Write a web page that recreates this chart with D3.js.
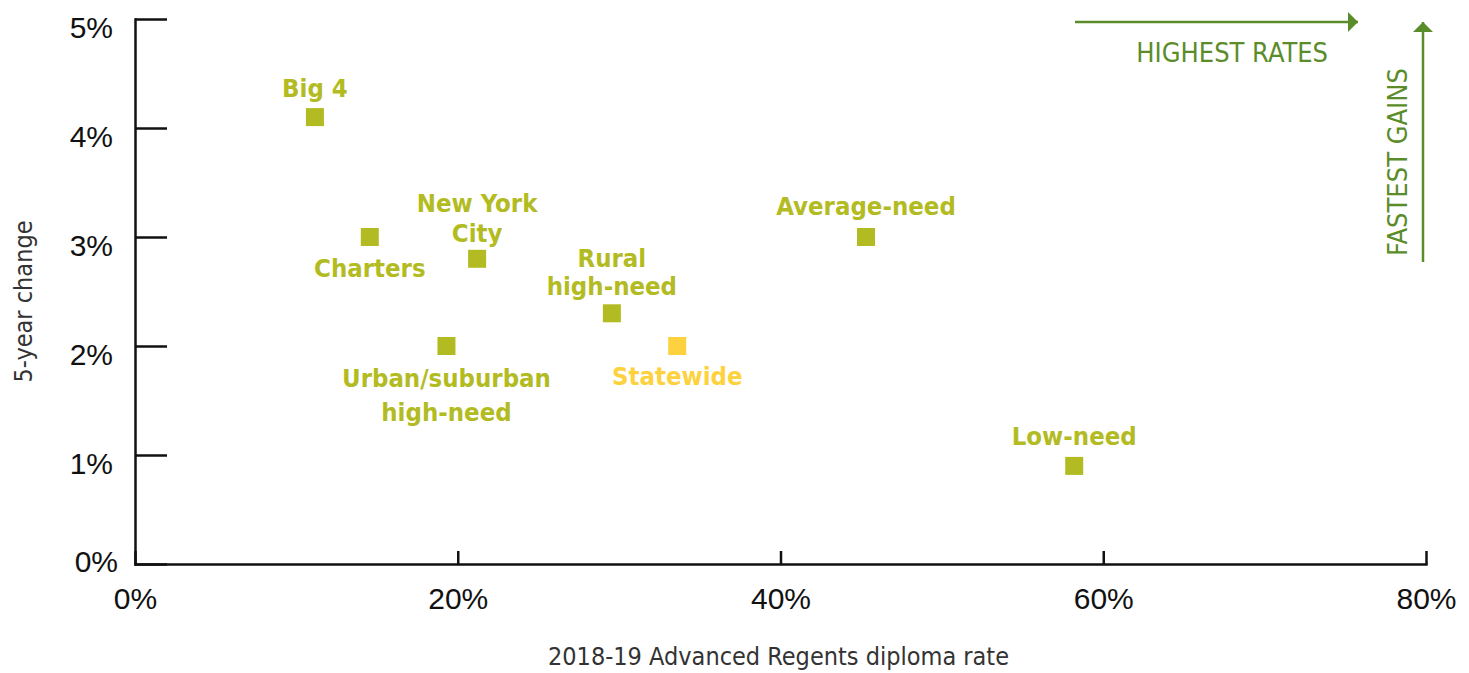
<!DOCTYPE html>
<html>
<head>
<meta charset="utf-8">
<script src="https://cdn.jsdelivr.net/npm/d3@7"></script>
<style>
  body { margin: 0; background: #fff; }
  svg { display: block; font-family: "Liberation Sans Narrow", "DejaVu Sans Condensed", "Roboto", sans-serif; }
  .axis path, .axis line { stroke: #111; stroke-width: 2.5px; }
  .axis text { fill: #111; font-size: 30px; font-family: inherit; }
  .label { font-weight: bold; font-size: 25.5px; text-anchor: middle; }
  .note { fill: #5b8c2a; font-size: 27px; }
</style>
</head>
<body>
<svg class="chart"></svg>
<script>
const groups = ['Big 4', 'Charters', 'New York City', 'Urban/suburban high-need', 'Rural high-need', 'Statewide', 'Average-need', 'Low-need']
const diplomaRate = [11.15, 14.55, 21.2, 19.3, 29.55, 33.6, 45.3, 58.2]
const fiveYearChange = [4.1, 3.0, 2.8, 2.0, 2.3, 2.0, 3.0, 0.9]
const labelLines = [['Big 4'], ['Charters'], ['New York', 'City'], ['Urban/suburban', 'high-need'], ['Rural', 'high-need'], ['Statewide'], ['Average-need'], ['Low-need']]
// label placement relative to the square: first baseline offset (px)
const labelOffset = [-20, 40, -47, 41, -46, 39, -22, -21]
const xTicks = [0, 20, 40, 60, 80]
const yTicks = [0, 1, 2, 3, 4, 5]

const width = 1469
const height = 673
const green = '#b2bc22'
const yellow = '#fdd23e'
const noteColor = '#5b8c2a'

const chart = d3.select('.chart')
  .attr('width', width)
  .attr('height', height)

const xScale = d3.scaleLinear().domain([0, 80]).range([135, 1426])
const yScale = d3.scaleLinear().domain([0, 5]).range([564, 19])

const xAxis = chart.append('g').attr('class', 'axis')
  .attr('transform', `translate(0,${yScale(0)})`)
  .call(d3.axisBottom(xScale).tickValues(xTicks).tickSizeInner(-13).tickSizeOuter(0)
    .tickPadding(24).tickFormat(d => d + '%'))
xAxis.selectAll('text').attr('dy', '0.71em')

const yAxis = chart.append('g').attr('class', 'axis')
  .attr('transform', `translate(${xScale(0)},0)`)
  .call(d3.axisLeft(yScale).tickValues(yTicks).tickSizeInner(-32).tickSizeOuter(0)
    .tickPadding(22).tickFormat(d => d + '%'))
yAxis.selectAll('text').attr('dy', '0.6em')
yAxis.selectAll('.tick').filter(d => d === 0).select('text')
  .attr('x', -17).attr('dy', '0.25em')
chart.selectAll('.axis .domain').attr('stroke-linecap', 'square')

// axis titles
chart.append('text')
  .attr('x', (xScale(0) + xScale(80)) / 2 - 2)
  .attr('y', 665)
  .attr('text-anchor', 'middle')
  .attr('fill', '#333')
  .style('font-size', '25px')
  .text('2018-19 Advanced Regents diploma rate')

chart.append('text')
  .attr('transform', `translate(32,${(yScale(0) + yScale(5)) / 2 + 10}) rotate(-90)`)
  .attr('text-anchor', 'middle')
  .attr('fill', '#333')
  .style('font-size', '25px')
  .text('5-year change')

// direction notes
const defs = chart.append('defs')
defs.append('marker')
  .attr('id', 'arrow')
  .attr('viewBox', '0 0 10 20')
  .attr('refX', 10).attr('refY', 10)
  .attr('markerWidth', 10).attr('markerHeight', 20)
  .attr('markerUnits', 'userSpaceOnUse')
  .attr('orient', 'auto')
  .append('path')
  .attr('d', 'M0,0L10,10L0,20Z')
  .attr('fill', noteColor)

chart.append('line')
  .attr('x1', 1075).attr('y1', 22).attr('x2', 1358).attr('y2', 22)
  .attr('stroke', noteColor).attr('stroke-width', 2.5)
  .attr('marker-end', 'url(#arrow)')
chart.append('text').attr('class', 'note')
  .attr('x', 1328).attr('y', 62)
  .attr('text-anchor', 'end')
  .text('HIGHEST RATES')

chart.append('line')
  .attr('x1', 1423).attr('y1', 262).attr('x2', 1423).attr('y2', 22)
  .attr('stroke', noteColor).attr('stroke-width', 2.5)
  .attr('marker-end', 'url(#arrow)')
chart.append('text').attr('class', 'note')
  .attr('transform', 'translate(1407,256) rotate(-90)')
  .attr('text-anchor', 'start')
  .text('FASTEST GAINS')

// points
const points = chart.append('g').attr('class', 'points')
  .selectAll('g')
  .data(groups)
  .enter()
  .append('g')
  .attr('transform', (d, i) => `translate(${xScale(diplomaRate[i])},${yScale(fiveYearChange[i])})`)

const size = 18
points.append('rect')
  .attr('x', -size / 2).attr('y', -size / 2)
  .attr('width', size).attr('height', size)
  .attr('fill', d => d === 'Statewide' ? yellow : green)

points.append('text')
  .attr('class', 'label')
  .attr('fill', d => d === 'Statewide' ? yellow : green)
  .each((d, i, nodes) => {
    const lines = labelLines[i]
    d3.select(nodes[i]).selectAll('tspan')
      .data(lines)
      .enter()
      .append('tspan')
      .attr('x', 0)
      .attr('y', (line, j) => labelOffset[i] + j * (i === 4 ? 28 : i === 3 ? 34 : 30))
      .text(line => line)
  })
</script>
</body>
</html>
